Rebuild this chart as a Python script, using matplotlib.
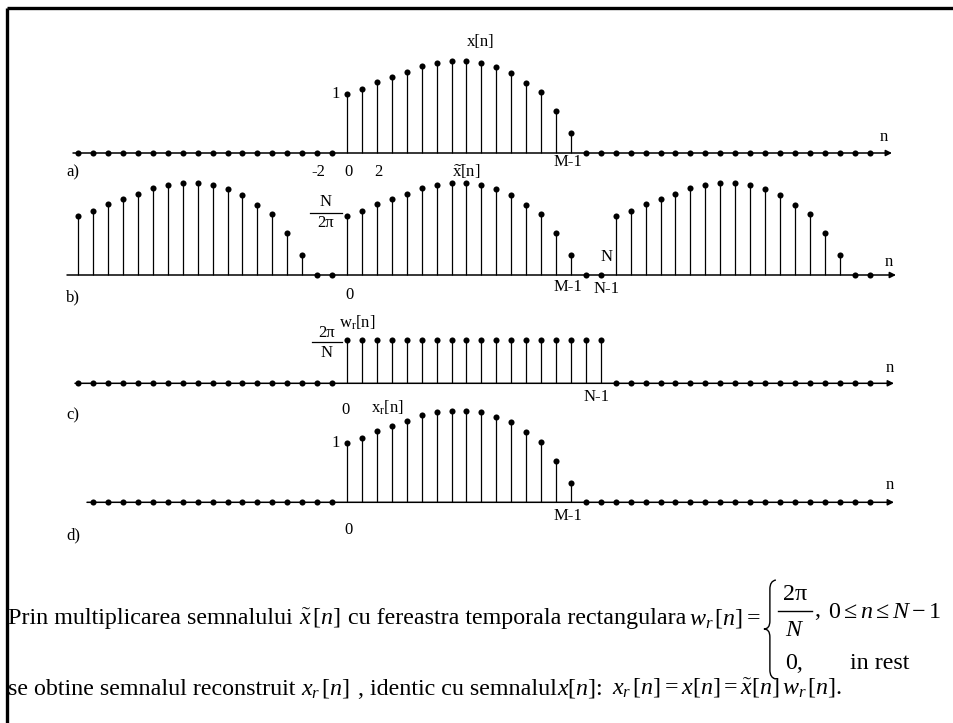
import numpy as np
import matplotlib
matplotlib.use("Agg")
import matplotlib.pyplot as plt
from matplotlib.path import Path
from matplotlib.patches import PathPatch

plt.rcParams['font.family'] = ['Liberation Serif', 'DejaVu Serif']
plt.rcParams['mathtext.fontset'] = 'custom'
plt.rcParams['mathtext.rm'] = 'Liberation Serif'
plt.rcParams['mathtext.it'] = 'Liberation Serif:italic'
plt.rcParams['mathtext.cal'] = 'Liberation Serif:italic'

W, H, DPI = 954, 723, 100

# one period of x[n], n = 0..M-1, scaled so that x[0] = 1
x_vals = [1.00, 1.08, 1.19, 1.28, 1.36, 1.46, 1.52, 1.54, 1.54, 1.52,
          1.44, 1.35, 1.18, 1.02, 0.70, 0.33]
M = len(x_vals)      # 16 samples
N = 18               # period of x~[n]
w_level = 1.0        # window height 2pi/N

n_a_zeros = list(range(-18, 0)) + list(range(M, 36))
n_b = list(range(-18, 36))
n_c_zeros = list(range(-18, 0)) + list(range(N, 36))
n_d_zeros = list(range(-17, 0)) + list(range(M, 36))

# horizontal mapping: n = 0 at px 347, 14.93 px per sample
X0, DX = 347.0, 14.93
NLIM = (-X0 / DX, (W - X0) / DX)

LBL = 12      # label size on the sketches
TXT = 17.3    # size of the explanatory text

fig = plt.figure(figsize=(W / DPI, H / DPI), dpi=DPI)
rend = fig.canvas.get_renderer()

# page layer in pixel coordinates (frame + text)
page = fig.add_axes([0, 0, 1, 1])
page.set_xlim(0, W)
page.set_ylim(H, 0)
page.axis('off')
page.plot([7, W], [8, 8], color='k', lw=2.4, solid_capstyle='butt')
page.plot([7, 7], [8, H], color='k', lw=2.4, solid_capstyle='butt')


def panel(y_axis, unit):
    """Transparent full-page axes: n on x, amplitude on y (0 at pixel row y_axis)."""
    ax = fig.add_axes([0, 0, 1, 1])
    ax.set_xlim(*NLIM)
    ax.set_ylim(-(H - y_axis) / unit, y_axis / unit)
    ax.axis('off')
    ax.patch.set_alpha(0)
    return ax


def draw_axis(ax, n0, n1):
    ax.annotate('', xy=(n1, 0), xytext=(n0, 0),
                arrowprops=dict(arrowstyle='-|>', color='k', lw=1.1,
                                mutation_scale=9, shrinkA=0, shrinkB=0))


def stems(ax, n, v):
    ax.vlines(n, 0, v, color='k', lw=0.9)
    ax.plot(n, v, 'o', color='k', ms=4.4, mec='k', mew=0)


def dots(ax, n):
    ax.plot(n, np.zeros(len(n)), 'o', color='k', ms=4.4, mew=0)


def px(xp):
    return (xp - X0) / DX


# ---- a) x[n]
ya, ua = 153.0, 59.5
ax = panel(ya, ua)
draw_axis(ax, px(73), px(892))
stems(ax, np.arange(M), x_vals)
dots(ax, n_a_zeros)
ax.text(px(481), (ya - 42) / ua, 'x[n]', fontsize=LBL, ha='center', va='center')
ax.text(px(340), 1.0, '1', fontsize=LBL, ha='right', va='center')
for k, s in [(-2, '-2'), (0, '0'), (2, '2')]:
    ax.text(k + 0.1, (ya - 172) / ua, s, fontsize=LBL, ha='center', va='center')
ax.text(M - 1 - 0.2, (ya - 162) / ua, 'M-1', fontsize=LBL, ha='center', va='center')
ax.text(px(884), (ya - 137) / ua, 'n', fontsize=LBL, ha='center', va='center')
ax.text(px(66), (ya - 172) / ua, 'a)', fontsize=LBL, ha='left', va='center')

# ---- b) periodic x~[n]
yb, ub = 275.0, 59.5
ax = panel(yb, ub)
draw_axis(ax, px(67), px(896))
xt = np.array([x_vals[k % N] if k % N < M else 0.0 for k in n_b])
nz = np.array(n_b)[xt > 0]
stems(ax, nz, xt[xt > 0])
dots(ax, np.array(n_b)[xt == 0])
ax.text(px(466), (yb - 172) / ub, r'$\widetilde{\mathrm{x}}$[n]', fontsize=LBL,
        ha='center', va='center')
ax.text(px(326), (yb - 202) / ub, 'N', fontsize=LBL, ha='center', va='center')
ax.plot([px(310), px(342)], [(yb - 212.5) / ub] * 2, color='k', lw=0.9)
ax.text(px(326), (yb - 223) / ub, '2\u03c0', fontsize=LBL, ha='center', va='center')
ax.text(0.15, (yb - 295) / ub, '0', fontsize=LBL, ha='center', va='center')
ax.text(px(66), (yb - 297) / ub, 'b)', fontsize=LBL, ha='left', va='center')
ax.text(M - 1 - 0.2, (yb - 287) / ub, 'M-1', fontsize=LBL, ha='center', va='center')
ax.text(N - 0.6, (yb - 257) / ub, 'N', fontsize=LBL, ha='center', va='center')
ax.text(N - 0.6, (yb - 289) / ub, 'N-1', fontsize=LBL, ha='center', va='center')
ax.text(px(889), (yb - 262) / ub, 'n', fontsize=LBL, ha='center', va='center')

# ---- c) rectangular window w_r[n]
yc, uc = 383.3, 43.3
ax = panel(yc, uc)
draw_axis(ax, px(75), px(894))
stems(ax, np.arange(N), np.full(N, w_level))
dots(ax, n_c_zeros)
ax.text(px(357), (yc - 323) / uc, r'w$_{\mathrm{r}}$[n]', fontsize=LBL, ha='center', va='center')
ax.text(px(327), (yc - 333) / uc, '2\u03c0', fontsize=LBL, ha='center', va='center')
ax.plot([px(312), px(342)], [(yc - 342) / uc] * 2, color='k', lw=0.9)
ax.text(px(327), (yc - 353) / uc, 'N', fontsize=LBL, ha='center', va='center')
ax.text(-0.1, (yc - 410) / uc, '0', fontsize=LBL, ha='center', va='center')
ax.text(px(66), (yc - 415) / uc, 'c)', fontsize=LBL, ha='left', va='center')
ax.text(N - 1 - 0.3, (yc - 397) / uc, 'N-1', fontsize=LBL, ha='center', va='center')
ax.text(px(890), (yc - 368) / uc, 'n', fontsize=LBL, ha='center', va='center')

# ---- d) reconstructed x_r[n]
yd, ud = 502.3, 59.5
ax = panel(yd, ud)
draw_axis(ax, px(87), px(894))
stems(ax, np.arange(M), x_vals)
dots(ax, n_d_zeros)
ax.text(px(387), (yd - 408) / ud, r'x$_{\mathrm{r}}$[n]', fontsize=LBL, ha='center', va='center')
ax.text(px(340), 1.0, '1', fontsize=LBL, ha='right', va='center')
ax.text(0.1, (yd - 530) / ud, '0', fontsize=LBL, ha='center', va='center')
ax.text(px(66), (yd - 535) / ud, 'd)', fontsize=LBL, ha='left', va='center')
ax.text(M - 1 - 0.2, (yd - 516) / ud, 'M-1', fontsize=LBL, ha='center', va='center')
ax.text(px(890), (yd - 485) / ud, 'n', fontsize=LBL, ha='center', va='center')


# ---- explanatory text, laid out left to right
def flow(x, y, parts):
    for s, gap in parts:
        t = page.text(x, y, s, fontsize=TXT, va='baseline')
        x += t.get_window_extent(renderer=rend).width + gap
    return x


b1, b2 = 624, 695
xb = flow(8, b1, [('Prin multiplicarea semnalului', 6),
                  (r'$\tilde{x}\,[n]$', 7),
                  ('cu fereastra temporala rectangulara', 3),
                  (r'$w_r\,[n]=$', 6)])

# piecewise definition of the window
ym = 629
brace = Path([(xb + 9, ym - 49), (xb + 3, ym - 48), (xb + 3, ym - 40), (xb + 3, ym - 8),
              (xb + 3, ym), (xb - 3, ym),
              (xb + 3, ym), (xb + 3, ym + 8), (xb + 3, ym + 41), (xb + 3, ym + 49),
              (xb + 9, ym + 50)],
             [Path.MOVETO, Path.CURVE3, Path.CURVE3, Path.LINETO, Path.CURVE3, Path.CURVE3,
              Path.CURVE3, Path.CURVE3, Path.LINETO, Path.CURVE3, Path.CURVE3])
page.add_patch(PathPatch(brace, fill=False, lw=1.0, color='k'))
xf = xb + 28
page.text(xf, 595, '2\u03c0', fontsize=TXT, ha='center', va='center')
page.plot([xf - 17, xf + 17], [611, 611], color='k', lw=1.0)
page.text(xf, 630, r'$N$', fontsize=TXT, ha='center', va='center')
page.text(xf + 19, 616, ',', fontsize=TXT, ha='left', va='baseline')
page.text(xf + 33, 618, r'$0\leq n\leq N-1$', fontsize=TXT, ha='left', va='baseline')
page.text(xf - 10, 669, '0,', fontsize=TXT, ha='left', va='baseline')
page.text(xf + 85, 669, 'in rest', fontsize=TXT, ha='center', va='baseline')

flow(8, b2, [('se obtine semnalul reconstruit', 6),
             (r'$x_r\,[n]$', 7),
             (', identic cu semnalul', 1),
             (r'$x[n]$:', 9),
             (r'$x_r\,[n]=x[n]=\tilde{x}[n]\,w_r\,[n]$.', 0)])

fig.savefig('out.png', dpi=DPI, facecolor='white')
